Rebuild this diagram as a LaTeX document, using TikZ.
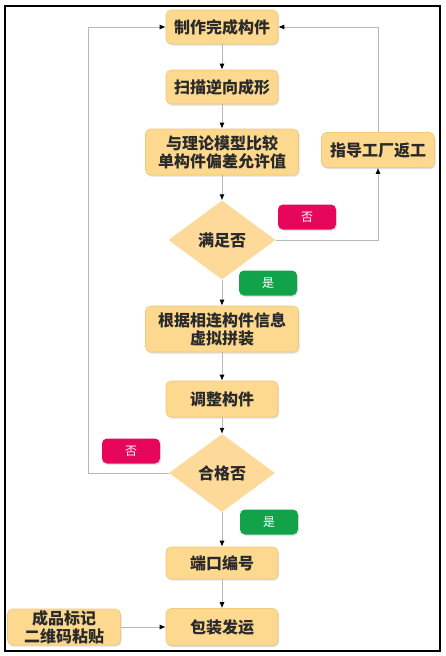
\documentclass[tikz,border=0pt]{standalone}
\usepackage{fontspec}
\newfontfamily\cjk{Noto Sans CJK SC}
\usetikzlibrary{arrows.meta,shapes.geometric,shadows}
\definecolor{boxfill}{HTML}{FCD98E}
\definecolor{boxline}{HTML}{F2C879}
\definecolor{dfill}{HTML}{FDDA9A}
\definecolor{nored}{HTML}{E6075A}
\definecolor{yesgreen}{HTML}{12A34A}
\definecolor{conn}{HTML}{B8B8B8}
\definecolor{txt}{HTML}{2A2A2A}
\tikzset{
  stepbox/.style={rectangle, rounded corners=5pt, fill=boxfill, draw=boxline, line width=0.6pt,
    drop shadow={shadow xshift=1pt, shadow yshift=-1.5pt, opacity=0.25, fill=gray},
    font=\cjk\bfseries\fontsize{16}{18}\selectfont, text=txt, align=center, inner sep=0pt},
  decide/.style={diamond, fill=dfill, inner sep=0pt, font=\cjk\bfseries\fontsize{16}{18}\selectfont, text=txt},
  tag/.style={rectangle, rounded corners=5pt, minimum width=58pt, minimum height=25pt, inner sep=0pt,
    font=\cjk\fontsize{12}{13}\selectfont, text=white,
    drop shadow={shadow xshift=1pt, shadow yshift=-1.5pt, opacity=0.2, fill=gray}},
  link/.style={draw=conn, line width=0.9pt, -{Latex[length=6pt,width=5pt,color=black]}}
}
\begin{document}
\begin{tikzpicture}[x=1pt,y=-1pt]
\useasboundingbox (0,0) rectangle (446,656);
\fill[white] (0,0) rectangle (446,656);
\draw[black, line width=2pt] (5,6) rectangle (440,651);

\node[stepbox, minimum width=112pt, minimum height=34pt] (b1) at (222,27) {制作完成构件};
\node[stepbox, minimum width=112pt, minimum height=34pt] (b2) at (222,87) {扫描逆向成形};
\node[stepbox, minimum width=153pt, minimum height=46pt] (b3) at (222,152) {与理论模型比较\\单构件偏差允许值};
\node[stepbox, minimum width=113pt, minimum height=35pt] (b4) at (378,150) {指导工厂返工};
\node[decide, minimum width=107pt, minimum height=79pt] (d1) at (222,240) {满足否};
\node[tag, fill=nored] (n1) at (307,217) {否};
\node[tag, fill=yesgreen] (y1) at (268,283) {是};
\node[stepbox, minimum width=153pt, minimum height=46pt] (b5) at (222,329) {根据相连构件信息\\虚拟拼装};
\node[stepbox, minimum width=112pt, minimum height=36pt] (b6) at (222,399) {调整构件};
\node[decide, minimum width=106pt, minimum height=78pt] (d2) at (222,473) {合格否};
\node[tag, fill=nored] (n2) at (131,451) {否};
\node[tag, fill=yesgreen] (y2) at (269,522) {是};
\node[stepbox, minimum width=112pt, minimum height=32pt] (b7) at (222,563) {端口编号};
\node[stepbox, minimum width=112pt, minimum height=37pt] (b8) at (222,627) {包装发运};
\node[stepbox, minimum width=113pt, minimum height=36pt] (b9) at (64,627) {成品标记\\二维码粘贴};

\coordinate (lp) at (88,473);

\draw[link] (b1) -- (b2);
\draw[link] (b2) -- (b3);
\draw[link] (b3) -- (d1);
\draw[link] (d1) -- (b5);
\draw[link] (b5) -- (b6);
\draw[link] (b6) -- (d2);
\draw[link] (d2) -- (b7);
\draw[link] (b7) -- (b8);
\draw[link] (b9) -- (b8);
\draw[link] (d1.east) -| (b4.south);
\draw[link] (b4.north) |- (b1.east);
\draw[link] (d2.west) -- (lp) |- (b1.west);
\end{tikzpicture}
\end{document}
